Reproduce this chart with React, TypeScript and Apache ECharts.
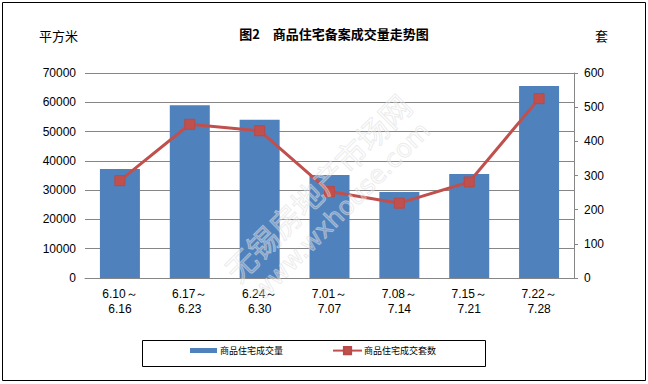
import React, { useEffect, useRef } from "react";
import * as echarts from "echarts";

const categories = ["6.10～\n6.16", "6.17～\n6.23", "6.24～\n6.30", "7.01～\n7.07", "7.08～\n7.14", "7.15～\n7.21", "7.22～\n7.28"];
const areaValues = [37200, 59000, 54000, 35200, 29400, 35500, 65600];
const unitValues = [285, 450, 431, 253, 219, 281, 525];
const titleText = "图2　商品住宅备案成交量走势图";
const areaName = "商品住宅成交量";
const unitName = "商品住宅成交套数";

const CJK = '"Noto Sans CJK SC", "Noto Sans", sans-serif';
const NUM = '"Liberation Sans", Arial, sans-serif';

export default function App() {
  const ref = useRef<HTMLDivElement>(null);
  useEffect(() => {
    document.body.style.margin = "0";
    if (!ref.current) return;
    const chart = echarts.init(ref.current, null, { renderer: "svg" });
    chart.setOption({
      animation: false,
      backgroundColor: "#ffffff",
      title: {
        text: titleText,
        left: 329,
        top: 22,
        textAlign: "center",
        textStyle: { fontFamily: CJK, fontSize: 13, fontWeight: "bold", color: "#000" },
      },
      grid: { left: 85, right: 74, top: 73, bottom: 106, containLabel: false },
      legend: [
        {
          data: [areaName],
          left: 190,
          top: 346,
          padding: 0,
          itemWidth: 27,
          itemHeight: 5,
          itemGap: 0,
          icon: "rect",
          textStyle: { fontFamily: CJK, fontSize: 9, color: "#000", padding: [0, 0, 0, -2] },
        },
        {
          data: [unitName],
          left: 332,
          top: 346,
          padding: 0,
          itemWidth: 29,
          itemHeight: 9,
          itemGap: 0,
          textStyle: { fontFamily: CJK, fontSize: 9, color: "#000", padding: [0, 0, 0, -3] },
        },
      ],
      xAxis: {
        type: "category",
        data: categories,
        axisLine: { show: true, lineStyle: { color: "#868686", width: 1 } },
        axisTick: { show: false },
        axisLabel: { fontFamily: NUM, fontSize: 12, color: "#000", margin: 8, lineHeight: 15 },
      },
      yAxis: [
        {
          type: "value",
          min: 0,
          max: 70000,
          interval: 10000,
          name: "平方米",
          nameLocation: "end",
          nameGap: 31,
          nameTextStyle: { fontFamily: CJK, fontSize: 13, color: "#000", align: "right", padding: [0, 7, 0, 0] },
          axisLine: { show: false },
          axisTick: { show: false },
          axisLabel: { fontFamily: NUM, fontSize: 12, color: "#000", margin: 9, formatter: (v: number) => String(v) },
          splitLine: { show: true, lineStyle: { color: "#868686", width: 1 } },
        },
        {
          type: "value",
          min: 0,
          max: 600,
          interval: 100,
          position: "right",
          name: "套",
          nameLocation: "end",
          nameGap: 31,
          nameTextStyle: { fontFamily: CJK, fontSize: 13, color: "#000", align: "left", padding: [0, 0, 0, 21] },
          axisLine: { show: true, lineStyle: { color: "#868686", width: 1 } },
          axisTick: { show: true, length: 4, lineStyle: { color: "#868686" } },
          axisLabel: { fontFamily: NUM, fontSize: 12, color: "#000", margin: 10, formatter: (v: number) => String(v) },
          splitLine: { show: false },
        },
      ],
      series: [
        {
          name: areaName,
          type: "bar",
          data: areaValues,
          barWidth: 40,
          itemStyle: { color: "#4F81BD" },
        },
        {
          name: unitName,
          type: "line",
          yAxisIndex: 1,
          data: unitValues,
          symbol: "rect",
          symbolSize: 10,
          lineStyle: { color: "#C0504D", width: 3 },
          itemStyle: { color: "#C0504D", borderColor: "#B94A47", borderWidth: 1 },
          z: 3,
        },
      ],
      graphic: [
        {
          type: "rect",
          shape: { x: 2.5, y: 2.5, width: 643, height: 378 },
          style: { fill: "none", stroke: "#000", lineWidth: 1 },
          silent: true,
          z: 0,
        },
        {
          type: "rect",
          shape: { x: 142.5, y: 340.5, width: 343, height: 26 },
          style: { fill: "none", stroke: "#000", lineWidth: 1 },
          silent: true,
        },
        {
          type: "text",
          x: 317,
          y: 187,
          rotation: Math.PI / 4,
          silent: true,
          z: 100,
          style: {
            text: "无锡房地产市场网",
            fontFamily: CJK,
            fontSize: 31,
            align: "center",
            verticalAlign: "middle",
            fill: "rgba(255,255,255,0.25)",
            stroke: "rgba(215,215,215,0.55)",
            lineWidth: 1,
          },
        },
        {
          type: "text",
          x: 341,
          y: 211,
          rotation: Math.PI / 4,
          silent: true,
          z: 100,
          style: {
            text: "www.wxhouse.com",
            fontFamily: '"DejaVu Sans", sans-serif',
            fontSize: 25,
            align: "center",
            verticalAlign: "middle",
            fill: "rgba(255,255,255,0.25)",
            stroke: "rgba(215,215,215,0.55)",
            lineWidth: 1,
          },
        },
      ],
    });
    return () => chart.dispose();
  }, []);
  return <div ref={ref} style={{ width: 648, height: 384 }} />;
}
